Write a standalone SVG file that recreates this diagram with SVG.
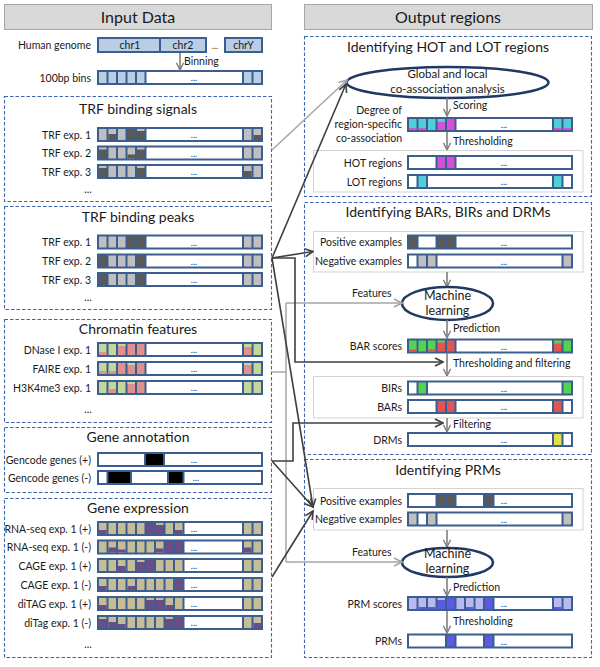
<svg xmlns="http://www.w3.org/2000/svg" xmlns:xlink="http://www.w3.org/1999/xlink" width="600" height="667" viewBox="0 0 600 667">
<style>
text{font-family:Lato,"Liberation Sans",Arial,sans-serif;fill:#1a1a1a}
.hdr{font-size:16px;text-anchor:middle}
.title{font-size:14px;text-anchor:middle}
.lbl{font-size:10.5px;text-anchor:end}
.fl{font-size:10.5px}
.cl{font-size:10.5px;text-anchor:middle}
.dots{font-size:9px;text-anchor:middle;fill:#333}
.ml{font-size:12.5px;text-anchor:middle}
.el{font-size:11.5px;text-anchor:middle}
.hbox{fill:#d9d9d9;stroke:#a6a6a6;stroke-width:1}
.dash{fill:#fff;stroke:#3d67ad;stroke-width:1.1;stroke-dasharray:3.5,2}
.inner{fill:#fff;stroke:#d3d3d3;stroke-width:1}
.bar{fill:#3b5e8e}
.w{fill:#fff}
.lb{fill:#b9cde5}
.lg{fill:#bfbfbf}
.dg{fill:#595959}
.gr{fill:#c3d69b}
.pk{fill:#e0908f}
.tn{fill:#c4bd97}
.pu{fill:#6a4c86}
.cy{fill:#4fd0d8}
.mg{fill:#d64fd6}
.bg{fill:#52d452}
.rd{fill:#e05454}
.ye{fill:#e0e048}
.lp{fill:#b9b9f2}
.bp{fill:#5a5ae2}
.bk{fill:#000}
.ell{fill:#fff;stroke:#1f3864;stroke-width:2.5}
.flow{stroke:#7f7f7f;stroke-width:1.6;fill:none;marker-end:url(#af)}
.dk{stroke:#3f3f3f;stroke-width:1.6;fill:none}
.lgc{stroke:#a6a6a6;stroke-width:1.5;fill:none}
</style>
<defs>
<marker id="af" viewBox="0 0 10 10" refX="9" refY="5" markerWidth="9" markerHeight="9" markerUnits="userSpaceOnUse" orient="auto"><path d="M1,1 L9,5 L1,9" fill="none" stroke="#7f7f7f" stroke-width="1.6"/></marker>
<marker id="ad" viewBox="0 0 10 10" refX="9" refY="5" markerWidth="10" markerHeight="10" markerUnits="userSpaceOnUse" orient="auto"><path d="M1,1 L9,5 L1,9" fill="none" stroke="#3f3f3f" stroke-width="1.6"/></marker>
<marker id="ag" viewBox="0 0 10 10" refX="9" refY="5" markerWidth="10" markerHeight="10" markerUnits="userSpaceOnUse" orient="auto"><path d="M1,1 L9,5 L1,9" fill="none" stroke="#a6a6a6" stroke-width="1.6"/></marker>
<rect id="c" y="2" width="7.5" height="11"/>
<rect id="b2" y="11" width="7.5" height="2"/>
<rect id="b3" y="10" width="7.5" height="3"/>
<rect id="b4" y="9" width="7.5" height="4"/>
<rect id="b5" y="8" width="7.5" height="5"/>
<rect id="b6" y="7" width="7.5" height="6"/>
<rect id="t2" y="2" width="7.5" height="2"/>
<rect id="t3" y="2" width="7.5" height="3"/>
<rect id="fb" class="bar" x="97" y="0" width="166" height="15"/>
<g id="f5"><rect class="bar" x="97" y="0" width="166" height="15"/><rect class="w" x="146.5" y="2" width="95.5" height="11"/><text class="dots" x="194" y="11">...</text></g>
<g id="f9"><rect class="bar" x="97" y="0" width="166" height="15"/><rect class="w" x="184.5" y="2" width="57.5" height="11"/><text class="dots" x="194" y="11">...</text></g>
</defs>
<rect width="600" height="667" fill="#fff"/>

<!-- Left column -->
<g id="hdr-input"><rect class="hbox" x="4.5" y="4.5" width="267" height="25"/><text class="hdr" x="138" y="22.5">Input Data</text></g>

<g id="genome">
<text class="lbl" x="91" y="49">Human genome</text>
<rect class="bar" x="97" y="37" width="110" height="16"/>
<rect class="lb" x="99" y="39" width="60" height="12"/>
<rect class="lb" x="161" y="39" width="44" height="12"/>
<text class="cl" x="130" y="49">chr1</text>
<text class="cl" x="183" y="49">chr2</text>
<text class="dots" x="215" y="49">...</text>
<rect class="bar" x="224" y="37" width="39" height="16"/>
<rect class="lb" x="226" y="39" width="35" height="12"/>
<text class="cl" x="243.5" y="49">chrY</text>
</g>
<g id="bins">
<text class="lbl" x="91" y="82">100bp bins</text>
<g transform="translate(0,70)"><use href="#f5"/>
<use href="#c" x="99" class="lb"/><use href="#c" x="108.5" class="lb"/><use href="#c" x="118" class="lb"/><use href="#c" x="127.5" class="lb"/><use href="#c" x="137" class="lb"/><use href="#c" x="244" class="lb"/><use href="#c" x="253.5" class="lb"/></g>
</g>

<g id="trf-signals">
<rect class="dash" x="4.5" y="96.5" width="267" height="105"/>
<text class="title" x="138" y="114">TRF binding signals</text>
<text class="lbl" x="91" y="138.5">TRF exp. 1</text>
<g transform="translate(0,127)"><use href="#f5"/>
<use href="#c" x="99" class="lg"/><use href="#c" x="108.5" class="lg"/><use href="#b6" x="108.5" class="dg"/><use href="#c" x="118" class="lg"/><use href="#c" x="127.5" class="dg"/><use href="#c" x="137" class="dg"/><use href="#t2" x="137" class="lg"/><use href="#c" x="244" class="lg"/><use href="#c" x="253.5" class="lg"/><use href="#b5" x="253.5" class="dg"/></g>
<text class="lbl" x="91" y="157">TRF exp. 2</text>
<g transform="translate(0,145.5)"><use href="#f5"/>
<use href="#c" x="99" class="dg"/><use href="#t2" x="99" class="lg"/><use href="#c" x="108.5" class="lg"/><use href="#c" x="118" class="lg"/><use href="#c" x="127.5" class="lg"/><use href="#b4" x="127.5" class="dg"/><use href="#c" x="137" class="dg"/><use href="#t2" x="137" class="lg"/><use href="#c" x="244" class="lg"/><use href="#c" x="253.5" class="lg"/></g>
<text class="lbl" x="91" y="175.5">TRF exp. 3</text>
<g transform="translate(0,164)"><use href="#f5"/>
<use href="#c" x="99" class="dg"/><use href="#t2" x="99" class="lg"/><use href="#c" x="108.5" class="lg"/><use href="#c" x="118" class="lg"/><use href="#c" x="127.5" class="lg"/><use href="#c" x="137" class="dg"/><use href="#t2" x="137" class="lg"/><use href="#c" x="244" class="lg"/><use href="#b6" x="244" class="dg"/><use href="#c" x="253.5" class="lg"/></g>
<text class="cl" x="88" y="193">...</text>
</g>

<g id="trf-peaks">
<rect class="dash" x="4.5" y="206.5" width="267" height="103"/>
<text class="title" x="138" y="222">TRF binding peaks</text>
<text class="lbl" x="91" y="246">TRF exp. 1</text>
<g transform="translate(0,234.5)"><use href="#f5"/>
<use href="#c" x="99" class="lg"/><use href="#c" x="108.5" class="lg"/><use href="#c" x="118" class="lg"/><use href="#c" x="127.5" class="dg"/><use href="#c" x="137" class="dg"/><use href="#c" x="244" class="lg"/><use href="#c" x="253.5" class="lg"/></g>
<text class="lbl" x="91" y="265">TRF exp. 2</text>
<g transform="translate(0,253.5)"><use href="#f5"/>
<use href="#c" x="99" class="dg"/><use href="#c" x="108.5" class="lg"/><use href="#c" x="118" class="lg"/><use href="#c" x="127.5" class="lg"/><use href="#c" x="137" class="dg"/><use href="#c" x="244" class="lg"/><use href="#c" x="253.5" class="lg"/></g>
<text class="lbl" x="91" y="283.5">TRF exp. 3</text>
<g transform="translate(0,272)"><use href="#f5"/>
<use href="#c" x="99" class="dg"/><use href="#c" x="108.5" class="lg"/><use href="#c" x="118" class="lg"/><use href="#c" x="127.5" class="lg"/><use href="#c" x="137" class="dg"/><use href="#c" x="244" class="lg"/><use href="#c" x="253.5" class="lg"/></g>
<text class="cl" x="88" y="301">...</text>
</g>

<g id="chromatin">
<rect class="dash" x="4.5" y="319.5" width="267" height="103"/>
<text class="title" x="138" y="334">Chromatin features</text>
<text class="lbl" x="91" y="353.5">DNase I exp. 1</text>
<g transform="translate(0,342)"><use href="#f5"/>
<use href="#c" x="99" class="gr"/><use href="#b3" x="99" class="pk"/><use href="#c" x="108.5" class="gr"/><use href="#c" x="118" class="pk"/><use href="#t2" x="118" class="gr"/><use href="#c" x="127.5" class="pk"/><use href="#c" x="137" class="pk"/><use href="#c" x="244" class="pk"/><use href="#t3" x="244" class="gr"/><use href="#c" x="253.5" class="gr"/></g>
<text class="lbl" x="91" y="372.5">FAIRE exp. 1</text>
<g transform="translate(0,361)"><use href="#f5"/>
<use href="#c" x="99" class="gr"/><use href="#b3" x="99" class="pk"/><use href="#c" x="108.5" class="gr"/><use href="#b3" x="108.5" class="pk"/><use href="#c" x="118" class="pk"/><use href="#c" x="127.5" class="pk"/><use href="#t2" x="127.5" class="gr"/><use href="#c" x="137" class="pk"/><use href="#c" x="244" class="pk"/><use href="#t2" x="244" class="gr"/><use href="#c" x="253.5" class="gr"/></g>
<text class="lbl" x="91" y="391.5">H3K4me3 exp. 1</text>
<g transform="translate(0,380)"><use href="#f5"/>
<use href="#c" x="99" class="gr"/><use href="#c" x="108.5" class="gr"/><use href="#b4" x="108.5" class="pk"/><use href="#c" x="118" class="gr"/><use href="#c" x="127.5" class="pk"/><use href="#t2" x="127.5" class="gr"/><use href="#c" x="137" class="pk"/><use href="#c" x="244" class="gr"/><use href="#c" x="253.5" class="gr"/></g>
<text class="cl" x="88" y="413">...</text>
</g>

<g id="gene-annotation">
<rect class="dash" x="4.5" y="427.5" width="267" height="65"/>
<text class="title" x="138" y="442">Gene annotation</text>
<text class="lbl" x="91" y="463.5">Gencode genes (+)</text>
<g transform="translate(0,452)"><use href="#fb"/>
<rect class="w" x="99" y="2" width="45" height="11"/><rect class="bk" x="146" y="2" width="17" height="11"/><rect class="w" x="165" y="2" width="96" height="11"/><text class="dots" x="194" y="11">...</text></g>
<text class="lbl" x="91" y="481.5">Gencode genes (-)</text>
<g transform="translate(0,470)"><use href="#fb"/>
<rect class="w" x="99" y="2" width="7.5" height="11"/><rect class="bk" x="108.5" y="2" width="21.5" height="11"/><rect class="w" x="132" y="2" width="35" height="11"/><rect class="bk" x="169" y="2" width="13.5" height="11"/><rect class="w" x="184.5" y="2" width="76.5" height="11"/><text class="dots" x="196" y="11">...</text></g>
</g>

<g id="gene-expression">
<rect class="dash" x="4.5" y="498.5" width="267" height="159"/>
<text class="title" x="138" y="513">Gene expression</text>
<text class="lbl" x="91" y="532.5">RNA-seq exp. 1 (+)</text>
<g transform="translate(0,521)"><use href="#f9"/>
<use href="#c" x="99" class="tn"/><use href="#b4" x="99" class="pu"/><use href="#c" x="108.5" class="tn"/><use href="#c" x="118" class="tn"/><use href="#c" x="127.5" class="tn"/><use href="#c" x="137" class="tn"/><use href="#c" x="146.5" class="pu"/><use href="#c" x="156" class="pu"/><use href="#t2" x="156" class="tn"/><use href="#c" x="165.5" class="tn"/><use href="#c" x="175" class="tn"/><use href="#b4" x="175" class="pu"/><use href="#c" x="244" class="tn"/><use href="#c" x="253.5" class="tn"/></g>
<text class="lbl" x="91" y="551">RNA-seq exp. 1 (-)</text>
<g transform="translate(0,539.5)"><use href="#f9"/>
<use href="#c" x="99" class="tn"/><use href="#c" x="108.5" class="tn"/><use href="#b5" x="108.5" class="pu"/><use href="#c" x="118" class="tn"/><use href="#b3" x="118" class="pu"/><use href="#c" x="127.5" class="tn"/><use href="#c" x="137" class="tn"/><use href="#c" x="146.5" class="tn"/><use href="#c" x="156" class="tn"/><use href="#b4" x="156" class="pu"/><use href="#c" x="165.5" class="pu"/><use href="#c" x="175" class="pu"/><use href="#c" x="244" class="tn"/><use href="#b5" x="244" class="pu"/><use href="#c" x="253.5" class="tn"/></g>
<text class="lbl" x="91" y="569.5">CAGE exp. 1 (+)</text>
<g transform="translate(0,558)"><use href="#f9"/>
<use href="#c" x="99" class="tn"/><use href="#c" x="108.5" class="tn"/><use href="#c" x="118" class="tn"/><use href="#b5" x="118" class="pu"/><use href="#c" x="127.5" class="tn"/><use href="#c" x="137" class="pu"/><use href="#t2" x="137" class="tn"/><use href="#c" x="146.5" class="pu"/><use href="#c" x="156" class="tn"/><use href="#c" x="165.5" class="tn"/><use href="#c" x="175" class="tn"/><use href="#c" x="244" class="tn"/><use href="#c" x="253.5" class="tn"/></g>
<text class="lbl" x="91" y="588.5">CAGE exp. 1 (-)</text>
<g transform="translate(0,577)"><use href="#f9"/>
<use href="#c" x="99" class="tn"/><use href="#b4" x="99" class="pu"/><use href="#c" x="108.5" class="tn"/><use href="#c" x="118" class="tn"/><use href="#c" x="127.5" class="tn"/><use href="#b4" x="127.5" class="pu"/><use href="#c" x="137" class="tn"/><use href="#c" x="146.5" class="tn"/><use href="#c" x="156" class="tn"/><use href="#c" x="165.5" class="tn"/><use href="#c" x="175" class="pu"/><use href="#c" x="244" class="tn"/><use href="#c" x="253.5" class="tn"/></g>
<text class="lbl" x="91" y="607.5">diTAG exp. 1 (+)</text>
<g transform="translate(0,596)"><use href="#f9"/>
<use href="#c" x="99" class="tn"/><use href="#b4" x="99" class="pu"/><use href="#c" x="108.5" class="tn"/><use href="#c" x="118" class="tn"/><use href="#c" x="127.5" class="tn"/><use href="#c" x="137" class="tn"/><use href="#c" x="146.5" class="pu"/><use href="#t2" x="146.5" class="tn"/><use href="#c" x="156" class="pu"/><use href="#t2" x="156" class="tn"/><use href="#c" x="165.5" class="tn"/><use href="#b4" x="165.5" class="pu"/><use href="#c" x="175" class="tn"/><use href="#c" x="244" class="tn"/><use href="#c" x="253.5" class="tn"/></g>
<text class="lbl" x="91" y="626.5">diTag exp. 1 (-)</text>
<g transform="translate(0,615)"><use href="#f9"/>
<use href="#c" x="99" class="pu"/><use href="#t2" x="99" class="tn"/><use href="#c" x="108.5" class="tn"/><use href="#b6" x="108.5" class="pu"/><use href="#c" x="118" class="tn"/><use href="#b4" x="118" class="pu"/><use href="#c" x="127.5" class="tn"/><use href="#c" x="137" class="tn"/><use href="#c" x="146.5" class="tn"/><use href="#c" x="156" class="tn"/><use href="#c" x="165.5" class="pu"/><use href="#t2" x="165.5" class="tn"/><use href="#c" x="175" class="pu"/><use href="#c" x="244" class="tn"/><use href="#c" x="253.5" class="tn"/><use href="#b5" x="253.5" class="pu"/></g>
<text class="cl" x="88" y="648">...</text>
</g>

<!-- Right column -->
<g id="hdr-output"><rect class="hbox" x="304.5" y="4.5" width="288" height="25"/><text class="hdr" x="448" y="22.5">Output regions</text></g>

<g id="hot-lot">
<rect class="dash" x="304.5" y="36.5" width="287" height="160"/>
<text class="title" x="448" y="52">Identifying HOT and LOT regions</text>
<g id="coassoc"><ellipse class="ell" cx="447.5" cy="82.5" rx="101" ry="15.5"/>
<text class="el" x="447.5" y="78">Global and local</text>
<text class="el" x="447.5" y="93">co-association analysis</text></g>
<line class="flow" x1="447" y1="98" x2="447" y2="116"/>
<text class="fl" x="453" y="109">Scoring</text>
<text class="lbl" x="402" y="114">Degree of</text>
<text class="lbl" x="402" y="128">region-specific</text>
<text class="lbl" x="402" y="142">co-association</text>
<g transform="translate(310,117)"><use href="#f5"/>
<use href="#c" x="99" class="cy"/><use href="#b2" x="99" class="mg"/><use href="#c" x="108.5" class="cy"/><use href="#b2" x="108.5" class="mg"/><use href="#c" x="118" class="cy"/><use href="#c" x="127.5" class="mg"/><use href="#t3" x="127.5" class="cy"/><use href="#c" x="137" class="mg"/><use href="#c" x="244" class="cy"/><use href="#b2" x="244" class="mg"/><use href="#c" x="253.5" class="cy"/><use href="#b2" x="253.5" class="mg"/></g>
<line class="flow" x1="447" y1="132" x2="447" y2="150"/>
<text class="fl" x="453" y="145">Thresholding</text>
<rect class="inner" x="313.5" y="150.5" width="269.5" height="41.5"/>
<text class="lbl" x="402" y="166.5">HOT regions</text>
<g transform="translate(310,155)"><use href="#fb"/>
<rect class="w" x="99" y="2" width="26.5" height="11"/><use href="#c" x="127.5" class="mg"/><use href="#c" x="137" class="mg"/><rect class="w" x="146.5" y="2" width="114.5" height="11"/><text class="dots" x="194" y="11">...</text></g>
<text class="lbl" x="402" y="185.5">LOT regions</text>
<g transform="translate(310,174)"><use href="#fb"/>
<rect class="w" x="99" y="2" width="7.5" height="11"/><use href="#c" x="108.5" class="cy"/><rect class="w" x="118" y="2" width="124" height="11"/><use href="#c" x="244" class="cy"/><rect class="w" x="253.5" y="2" width="7.5" height="11"/><text class="dots" x="194" y="11">...</text></g>
</g>

<g id="bars-birs-drms">
<rect class="dash" x="304.5" y="202.5" width="287" height="252"/>
<text class="title" x="448" y="217">Identifying BARs, BIRs and DRMs</text>
<rect class="inner" x="313.5" y="231.5" width="269.5" height="40.5"/>
<text class="lbl" x="402" y="246">Positive examples</text>
<g transform="translate(310,234.5)"><use href="#fb"/>
<use href="#c" x="99" class="dg"/><rect class="w" x="108.5" y="2" width="17" height="11"/><use href="#c" x="127.5" class="dg"/><use href="#c" x="137" class="dg"/><rect class="w" x="146.5" y="2" width="114.5" height="11"/><text class="dots" x="194" y="11">...</text></g>
<text class="lbl" x="402" y="265">Negative examples</text>
<g transform="translate(310,253.5)"><use href="#fb"/>
<rect class="w" x="99" y="2" width="7.5" height="11"/><use href="#c" x="108.5" class="lg"/><use href="#c" x="118" class="lg"/><rect class="w" x="127.5" y="2" width="124" height="11"/><use href="#c" x="253.5" class="lg"/><text class="dots" x="194" y="11">...</text></g>
<line class="flow" x1="447" y1="272" x2="447" y2="287"/>
<g id="ml1"><ellipse class="ell" cx="447.5" cy="303.5" rx="45.5" ry="16.5"/>
<text class="ml" x="447.5" y="300">Machine</text>
<text class="ml" x="447.5" y="315">learning</text></g>
<text class="fl" x="352" y="297">Features</text>
<line class="flow" x1="447" y1="320" x2="447" y2="338"/>
<text class="fl" x="453" y="332">Prediction</text>
<text class="lbl" x="402" y="350">BAR scores</text>
<g transform="translate(310,338.5)"><use href="#f5"/>
<use href="#c" x="99" class="bg"/><use href="#b2" x="99" class="rd"/><use href="#c" x="108.5" class="bg"/><use href="#c" x="118" class="bg"/><use href="#b2" x="118" class="rd"/><use href="#c" x="127.5" class="rd"/><use href="#t2" x="127.5" class="bg"/><use href="#c" x="137" class="rd"/><use href="#c" x="244" class="rd"/><use href="#t3" x="244" class="bg"/><use href="#c" x="253.5" class="bg"/></g>
<line class="flow" x1="447" y1="353" x2="447" y2="376"/>
<text class="fl" x="453" y="367">Thresholding and filtering</text>
<rect class="inner" x="313.5" y="376.5" width="269.5" height="41.5"/>
<text class="lbl" x="402" y="392">BIRs</text>
<g transform="translate(310,380.5)"><use href="#fb"/>
<rect class="w" x="99" y="2" width="7.5" height="11"/><use href="#c" x="108.5" class="bg"/><rect class="w" x="118" y="2" width="133.5" height="11"/><use href="#c" x="253.5" class="bg"/><text class="dots" x="194" y="11">...</text></g>
<text class="lbl" x="402" y="410.5">BARs</text>
<g transform="translate(310,399)"><use href="#fb"/>
<rect class="w" x="99" y="2" width="26.5" height="11"/><use href="#c" x="127.5" class="rd"/><use href="#c" x="137" class="rd"/><rect class="w" x="146.5" y="2" width="95.5" height="11"/><use href="#c" x="244" class="rd"/><rect class="w" x="253.5" y="2" width="7.5" height="11"/><text class="dots" x="194" y="11">...</text></g>
<line class="flow" x1="447" y1="418" x2="447" y2="432"/>
<text class="fl" x="453" y="428">Filtering</text>
<text class="lbl" x="402" y="443.5">DRMs</text>
<g transform="translate(310,432)"><use href="#fb"/>
<rect class="w" x="99" y="2" width="143" height="11"/><use href="#c" x="244" class="ye"/><rect class="w" x="253.5" y="2" width="7.5" height="11"/><text class="dots" x="194" y="11">...</text></g>
</g>

<g id="prms">
<rect class="dash" x="304.5" y="459.5" width="287" height="198"/>
<text class="title" x="448" y="475">Identifying PRMs</text>
<rect class="inner" x="313.5" y="488.5" width="269.5" height="41.5"/>
<text class="lbl" x="402" y="504.5">Positive examples</text>
<g transform="translate(310,493)"><use href="#fb"/>
<rect class="w" x="99" y="2" width="26.5" height="11"/><use href="#c" x="127.5" class="dg"/><use href="#c" x="137" class="dg"/><rect class="w" x="146.5" y="2" width="26.5" height="11"/><use href="#c" x="175" class="dg"/><rect class="w" x="184.5" y="2" width="76.5" height="11"/><text class="dots" x="194" y="11">...</text></g>
<text class="lbl" x="402" y="523">Negative examples</text>
<g transform="translate(310,511.5)"><use href="#fb"/>
<use href="#c" x="99" class="lg"/><rect class="w" x="108.5" y="2" width="7.5" height="11"/><use href="#c" x="118" class="lg"/><rect class="w" x="127.5" y="2" width="124" height="11"/><use href="#c" x="253.5" class="lg"/><text class="dots" x="194" y="11">...</text></g>
<line class="flow" x1="447" y1="530" x2="447" y2="547"/>
<g id="ml2"><ellipse class="ell" cx="447.5" cy="562.5" rx="45.5" ry="14.5"/>
<text class="ml" x="447.5" y="558">Machine</text>
<text class="ml" x="447.5" y="573">learning</text></g>
<text class="fl" x="352" y="556">Features</text>
<line class="flow" x1="447" y1="577" x2="447" y2="596"/>
<text class="fl" x="453" y="591">Prediction</text>
<text class="lbl" x="402" y="607.5">PRM scores</text>
<g transform="translate(310,596)"><use href="#f9"/>
<use href="#c" x="99" class="lp"/><use href="#c" x="108.5" class="lp"/><use href="#b2" x="108.5" class="bp"/><use href="#c" x="118" class="lp"/><use href="#b2" x="118" class="bp"/><use href="#c" x="127.5" class="bp"/><use href="#t2" x="127.5" class="lp"/><use href="#c" x="137" class="bp"/><use href="#c" x="146.5" class="lp"/><use href="#c" x="156" class="lp"/><use href="#b2" x="156" class="bp"/><use href="#c" x="165.5" class="lp"/><use href="#c" x="175" class="bp"/><use href="#c" x="244" class="lp"/><use href="#b2" x="244" class="bp"/><use href="#c" x="253.5" class="lp"/></g>
<line class="flow" x1="447" y1="611" x2="447" y2="633"/>
<text class="fl" x="453" y="625">Thresholding</text>
<text class="lbl" x="402" y="645">PRMs</text>
<g transform="translate(310,633.5)"><use href="#fb"/>
<rect class="w" x="99" y="2" width="36" height="11"/><use href="#c" x="137" class="bp"/><rect class="w" x="146.5" y="2" width="26.5" height="11"/><use href="#c" x="175" class="bp"/><rect class="w" x="184.5" y="2" width="76.5" height="11"/><text class="dots" x="194" y="11">...</text></g>
</g>

<!-- Binning arrow -->
<g id="binning"><line class="flow" x1="180" y1="53" x2="180" y2="70"/><text class="fl" x="184" y="65">Binning</text></g>

<g id="connectors">
<path class="lgc" d="M272,150 L347,80" marker-end="url(#ag)"/>
<path class="lgc" d="M272,372 L286,372 M286,303 L286,562"/>
<path class="lgc" d="M286,303 L402,303" marker-end="url(#ag)"/>
<path class="lgc" d="M286,562 L402,562" marker-end="url(#ag)"/>
<path class="dk" d="M272,258 L346,84" marker-end="url(#ad)"/>
<path class="dk" d="M272,258 L313,251.5" marker-end="url(#ad)"/>
<path class="dk" d="M272,258 L295,258 L295,362 L443,362" marker-end="url(#ad)"/>
<path class="dk" d="M272,258 L313,507" marker-end="url(#ad)"/>
<path class="dk" d="M272,461 L293,461 L293,423 L443,423" marker-end="url(#ad)"/>
<path class="dk" d="M272,461 L313,507" marker-end="url(#ad)"/>
<path class="dk" d="M272,577 L313,511" marker-end="url(#ad)"/>
</g>
</svg>
